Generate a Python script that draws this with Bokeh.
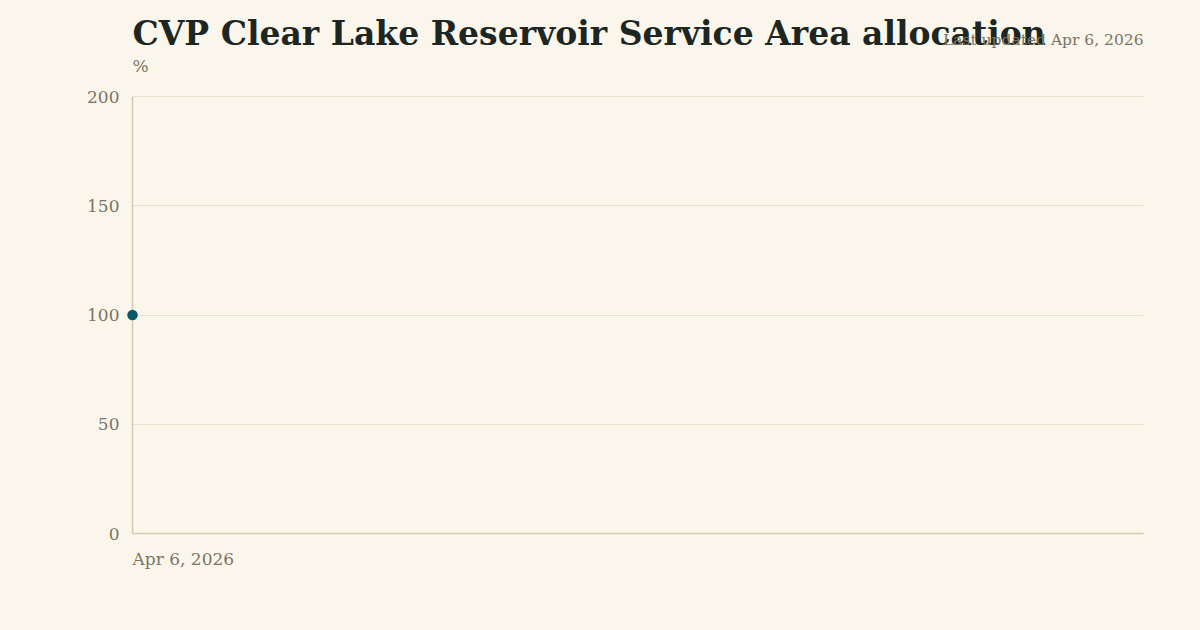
from datetime import datetime, timedelta
from bokeh.plotting import figure
from bokeh.models import Range1d, FixedTicker, Label, ColumnDataSource, DatetimeTickFormatter
from bokeh.embed import file_html
from bokeh.resources import INLINE

# ---- data ----
dates = [datetime(2026, 4, 6)]
allocation_pct = [100]
y_ticks = [0, 50, 100, 150, 200]
y_max = 200
title_text = "CVP Clear Lake Reservoir Service Area allocation"
updated_text = "Last updated Apr 6, 2026"
unit_text = "%"

BG = "#FAF6EC"
FONT = "DejaVu Serif"
GREY = "#7A7462"

W, H = 1184, 614
FRAME_BOTTOM = 533 - 8          # canvas px of value 0
TOP_OF_200 = 96 - 8             # canvas px of value 200
frame_h = FRAME_BOTTOM          # frame spans whole canvas top
y_end = y_max * frame_h / (FRAME_BOTTOM - TOP_OF_200)

p = figure(width=W, height=H, output_backend="svg", toolbar_location=None,
           x_axis_type="datetime",
           x_range=Range1d(dates[0], dates[0] + timedelta(days=30)),
           y_range=Range1d(0, y_end))
p.min_border_left = 124
p.min_border_right = W - (1143 - 8)
p.min_border_top = 0
p.min_border_bottom = H - FRAME_BOTTOM
p.background_fill_color = BG
p.border_fill_color = BG
p.outline_line_color = None

p.xgrid.grid_line_color = None
p.ygrid.grid_line_color = "#E9E0CB"
p.ygrid.grid_line_width = 1

p.yaxis.ticker = FixedTicker(ticks=y_ticks)
p.yaxis.bounds = (0, y_max)
p.xaxis.ticker = FixedTicker(ticks=[d.timestamp() * 1000 for d in dates])
fmt = "%b %-d, %Y"
p.xaxis.formatter = DatetimeTickFormatter(days=fmt, months=fmt, hours=fmt, years=fmt,
                                          minutes=fmt, hourmin=fmt, seconds=fmt,
                                          minsec=fmt, milliseconds=fmt, microseconds=fmt)
for ax in (p.xaxis[0], p.yaxis[0]):
    ax.axis_line_color = "#D6CAAC"
    ax.axis_line_width = 1.5
    ax.major_tick_line_color = None
    ax.minor_tick_line_color = None
    ax.major_tick_out = 0
    ax.major_tick_in = 0
    ax.major_label_text_font = FONT
    ax.major_label_text_color = GREY
    ax.major_label_text_font_size = "17px"
p.yaxis.major_label_standoff = 13
p.xaxis.major_label_standoff = 25
p.xaxis.major_label_orientation = -1e-4

src = ColumnDataSource(dict(x=dates, y=allocation_pct))
r = p.scatter("x", "y", source=src, size=10.5, color="#0C5865", line_color=None)
r.level = "overlay"

p.add_layout(Label(x=0, y=FRAME_BOTTOM - 39 + 14, x_units="screen", y_units="screen", text=title_text,
                   text_font=FONT, text_font_style="bold", text_font_size="33px",
                   text_color="#1D2622", text_baseline="alphabetic", text_align="left"))
p.add_layout(Label(x=0, y=FRAME_BOTTOM - 66 + 9, x_units="screen", y_units="screen", text=unit_text,
                   text_font=FONT, text_font_size="17px",
                   text_color=GREY, text_baseline="alphabetic", text_align="left"))
p.add_layout(Label(x=1143 - 132, y=FRAME_BOTTOM - 38 + 7, x_units="screen", y_units="screen",
                   text=updated_text, text_font=FONT, text_font_size="15.5px",
                   text_color=GREY, text_baseline="alphabetic", text_align="right"))

html = file_html(p, INLINE, title="CVP Clear Lake Reservoir Service Area allocation")
html = html.replace("<body>", '<body style="background:%s;margin:8px;">' % BG)
open("out.html", "w").write(html)
